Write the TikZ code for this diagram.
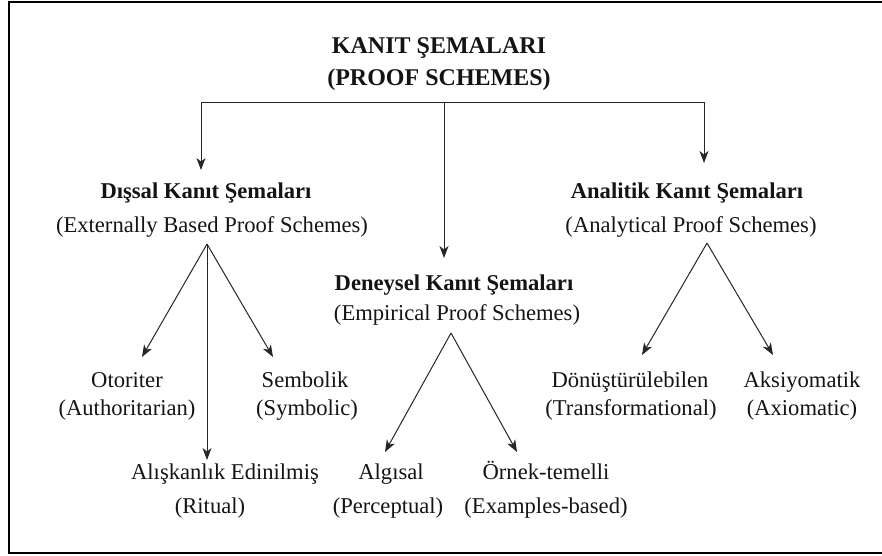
\documentclass[tikz,border=0pt]{standalone}
\usepackage{fontspec}
\setmainfont{Liberation Serif}
\usetikzlibrary{arrows.meta,calc}
\begin{document}
\begin{tikzpicture}[x=1pt,y=-1pt,
  txt/.style={inner sep=0pt, anchor=base, font=\fontsize{22.6}{26}\selectfont, text=black!92},
  btxt/.style={txt, font=\fontsize{22.6}{26}\selectfont\bfseries},
  ttl/.style={txt, font=\fontsize{24}{28}\selectfont\bfseries},
  conn/.style={draw=black!85, line width=1pt},
  arr/.style={conn, -{Stealth[length=12pt,width=9pt,inset=3.5pt]}},
  frame/.style={draw=black, line width=2pt}
]
\useasboundingbox (0,0) rectangle (882,555);
\draw[frame] (8.5,1.5) rectangle (900,553);

% title
\node[ttl] (t1) at (439,53) {KANIT ŞEMALARI};
\node[ttl] (t2) at (439,85) {(PROOF SCHEMES)};
\coordinate (bar) at (444,102);

% level 2
\node[btxt] (ext1) at (206,198) {Dışsal Kanıt Şemaları};
\node[txt]  (ext2) at (212,232) {(Externally Based Proof Schemes)};
\node[btxt] (ana1) at (687,198) {Analitik Kanıt Şemaları};
\node[txt]  (ana2) at (691,232) {(Analytical Proof Schemes)};
\node[btxt] (emp1) at (454,290) {Deneysel Kanıt Şemaları};
\node[txt]  (emp2) at (457,320) {(Empirical Proof Schemes)};

% leaves
\node[txt] (oto1) at (127,387) {Otoriter};
\node[txt] (oto2) at (127,415) {(Authoritarian)};
\node[txt] (sem1) at (305,387) {Sembolik};
\node[txt] (sem2) at (307,415) {(Symbolic)};
\node[txt] (ali1) at (225,479) {Alışkanlık Edinilmiş};
\node[txt] (ali2) at (210,513) {(Ritual)};
\node[txt] (alg1) at (391,479) {Algısal};
\node[txt] (alg2) at (388,513) {(Perceptual)};
\node[txt] (orn1) at (546,479) {Örnek-temelli};
\node[txt] (orn2) at (546,513) {(Examples-based)};
\node[txt] (don1) at (630,387) {Dönüştürülebilen};
\node[txt] (don2) at (631,415) {(Transformational)};
\node[txt] (aks1) at (802,387) {Aksiyomatik};
\node[txt] (aks2) at (802,415) {(Axiomatic)};

% top connectors
\draw[arr] (bar) -| ([xshift=-5pt,yshift=28pt]ext1.base);
\draw[arr] (bar) -- ([xshift=-10pt,yshift=32pt]emp1.base);
\draw[arr] (bar) -| ([xshift=17pt,yshift=35pt]ana1.base);

% forks
\coordinate (extf) at ([xshift=-5pt,yshift=-7pt]ext2.south);
\coordinate (empf) at ([xshift=-6pt,yshift=-8pt]emp2.south);
\coordinate (anaf) at ([xshift=16pt,yshift=-6pt]ana2.south);

\draw[arr] (extf) -- ([xshift=15pt,yshift=30pt]oto1.base);
\draw[arr] (extf) -- ([xshift=-32pt,yshift=30pt]sem1.base);
\draw[arr] (extf) -- ([xshift=-18pt,yshift=19pt]ali1.base);

\draw[arr] (empf) -- ([xshift=-6pt,yshift=27pt]alg1.base);
\draw[arr] (empf) -- ([xshift=-29pt,yshift=27pt]orn1.base);

\draw[arr] (anaf) -- ([xshift=12pt,yshift=32pt]don1.base);
\draw[arr] (anaf) -- ([xshift=-29pt,yshift=32pt]aks1.base);
\end{tikzpicture}
\end{document}
